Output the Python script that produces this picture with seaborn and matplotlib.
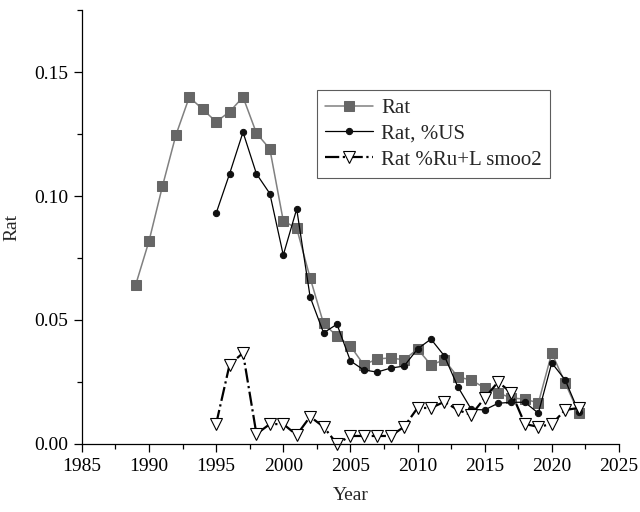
import matplotlib
matplotlib.use("Agg")
import matplotlib.pyplot as plt
import numpy as np
import pandas as pd
import seaborn as sns
from matplotlib.ticker import MultipleLocator

# values
rat_years = list(range(1989, 2023))
rat = [0.0641, 0.0819, 0.104, 0.1246, 0.140, 0.135, 0.130, 0.134, 0.140, 0.1254,
       0.119, 0.090, 0.087, 0.067, 0.0486, 0.0435, 0.0395, 0.0319, 0.0343, 0.0347,
       0.0339, 0.0383, 0.0319, 0.0339, 0.027, 0.0258, 0.0226, 0.0206, 0.0185, 0.0181,
       0.0165, 0.0367, 0.0246, 0.0125]

us_years = list(range(1995, 2023))
rat_us = [0.0931, 0.109, 0.1258, 0.109, 0.101, 0.0762, 0.0948, 0.0593, 0.0448, 0.0483,
          0.0335, 0.0298, 0.029, 0.0306, 0.0314, 0.0383, 0.0423, 0.0355, 0.0231, 0.014,
          0.0137, 0.0164, 0.0168, 0.0168, 0.0124, 0.0327, 0.0258, 0.013]

rul_years = list(range(1995, 2023))
rat_rul = [0.0081, 0.032, 0.0367, 0.004, 0.008, 0.008, 0.0036, 0.011, 0.0069, 0.0,
           0.0032, 0.0032, 0.0032, 0.0032, 0.0069, 0.0145, 0.0145, 0.017, 0.0137, 0.0117,
           0.0185, 0.025, 0.0206, 0.008, 0.0069, 0.008, 0.0137, 0.0145]

df_rat = pd.DataFrame({"Year": rat_years, "Rat": rat})
df_us = pd.DataFrame({"Year": us_years, "Rat": rat_us})
df_rul = pd.DataFrame({"Year": rul_years, "Rat": rat_rul})

sns.set_style("ticks")
plt.rcParams["font.family"] = ["Liberation Serif", "DejaVu Serif"]
plt.rcParams["font.size"] = 14

fig = plt.figure(figsize=(6.4, 5.12), dpi=100)
ax = fig.add_axes([0.128, 0.133, 0.839, 0.847])

sns.lineplot(data=df_rat, x="Year", y="Rat", ax=ax, color="#808080", lw=1.1,
             marker="s", markersize=7, markerfacecolor="#666666",
             markeredgecolor="#666666", label="Rat", clip_on=False)
sns.lineplot(data=df_us, x="Year", y="Rat", ax=ax, color="black", lw=0.9,
             marker="o", markersize=4.5, markerfacecolor="#111111",
             markeredgecolor="#111111", label="Rat, %US", clip_on=False)
sns.lineplot(data=df_rul, x="Year", y="Rat", ax=ax, color="black", lw=1.6,
             linestyle="-.", marker="v", markersize=9, markerfacecolor="white",
             markeredgecolor="black", markeredgewidth=0.8,
             label="Rat %Ru+L smoo2", clip_on=False)

ax.set_xlim(1985, 2025)
ax.set_ylim(0, 0.175)
ax.xaxis.set_major_locator(MultipleLocator(5))
ax.xaxis.set_minor_locator(MultipleLocator(2.5))
ax.yaxis.set_major_locator(MultipleLocator(0.05))
ax.yaxis.set_minor_locator(MultipleLocator(0.025))
ax.set_yticks([0.0, 0.05, 0.10, 0.15])
ax.set_yticklabels(["0.00", "0.05", "0.10", "0.15"])
ax.tick_params(which="both", direction="out", colors="black", labelsize=14)
ax.tick_params(which="major", length=6, width=0.9, pad=4)
ax.tick_params(which="minor", length=3.5, width=0.9)
for s in ["left", "bottom"]:
    ax.spines[s].set_color("black")
    ax.spines[s].set_linewidth(0.9)
sns.despine(ax=ax)
ax.set_xlabel("Year", fontsize=14, labelpad=9)
ax.set_ylabel("Rat", fontsize=14, labelpad=10)

leg = ax.legend(loc="upper left", bbox_to_anchor=(0.437, 0.816), frameon=True,
                fancybox=False, edgecolor="#333333", fontsize=15,
                handlelength=2.3, borderpad=0.4, labelspacing=0.3,
                handletextpad=0.4, borderaxespad=0)
leg.get_frame().set_linewidth(0.8)

fig.savefig("out.png", dpi=100)
